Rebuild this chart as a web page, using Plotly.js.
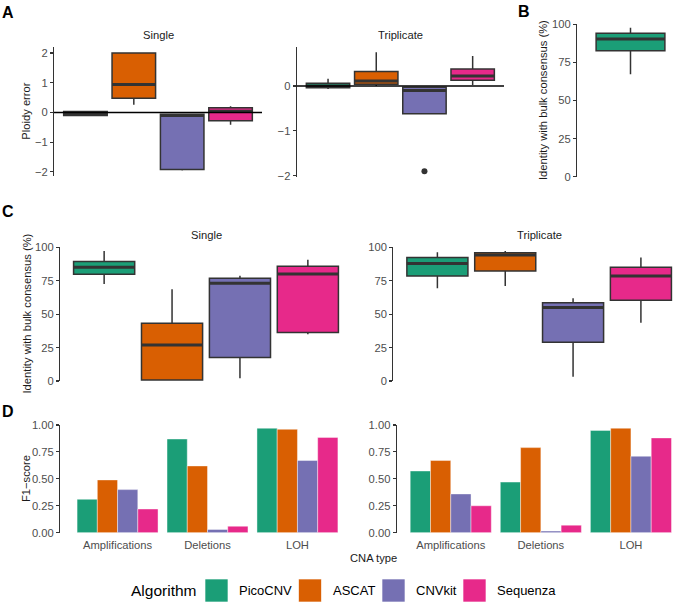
<!DOCTYPE html>
<html><head><meta charset="utf-8">
<script src="https://cdn.plot.ly/plotly-3.0.1.min.js"></script>
<style>html,body{margin:0;padding:0;background:#fff}#chart{width:685px;height:603px}</style>
</head><body><div id="chart"></div>
<script>
// ---------- DATA ----------
const algorithms = ["PicoCNV", "ASCAT", "CNVkit", "Sequenza"];
const algoColors = ["#1B9E77", "#D95F02", "#7570B3", "#E7298A"];
// box stats: [lowerfence, q1, median, q3, upperfence]
const ploidySingle = [
  [-0.12, -0.10, -0.04, 0.03, 0.06],
  [0.26, 0.48, 0.94, 2.00, 2.00],
  [-1.95, -1.92, -0.10, -0.06, -0.06],
  [-0.41, -0.28, 0.04, 0.16, 0.21]
];
const ploidyTriplicate = [
  [-0.07, -0.04, 0.00, 0.06, 0.16],
  [0.00, 0.04, 0.11, 0.32, 0.75],
  [-0.62, -0.62, -0.10, -0.03, -0.03],
  [0.02, 0.13, 0.22, 0.38, 0.67]
];
const ploidyTriplicateOutlierAlgo = ["CNVkit"];
const ploidyTriplicateOutlier = [-1.90];
const identityBulk = [67.3, 82.7, 90.4, 94.1, 97.8];
const identitySingle = [
  [72.6, 79.9, 85.1, 89.3, 97.3],
  [0.7, 0.7, 26.9, 43.2, 68.6],
  [2.0, 17.5, 73.1, 76.9, 78.8],
  [35.0, 36.2, 80.1, 85.8, 90.6]
];
const identityTriplicate = [
  [69.4, 78.6, 87.8, 92.3, 96.3],
  [71.1, 82.3, 94.3, 96.0, 97.3],
  [3.2, 29.0, 54.9, 58.6, 61.9],
  [43.6, 60.4, 78.6, 85.1, 92.3]
];
const cnaTypes = ["Amplifications", "Deletions", "LOH"];
const f1Single = [
  [0.31, 0.87, 0.97],
  [0.49, 0.62, 0.96],
  [0.40, 0.03, 0.67],
  [0.22, 0.06, 0.885]
];
const f1Triplicate = [
  [0.573, 0.47, 0.95],
  [0.67, 0.79, 0.97],
  [0.36, 0.015, 0.71],
  [0.25, 0.07, 0.88]
];
const ploidyTicks = [-2, -1, 0, 1, 2];
const identityTicks = [0, 25, 50, 75, 100];
const f1Ticks = [0, 0.25, 0.5, 0.75, 1];
const f1TickText = ["0.00", "0.25", "0.50", "0.75", "1.00"];

// ---------- HELPERS ----------
const W = 685, H = 603;
const fx = p => p / W;
const fy = p => 1 - p / H;
const FONT = "Liberation Sans, Arial, Helvetica, sans-serif";
const EDGE = "#333333";
const TICKSIZE = 11.2;
const traces = [];

function addBoxes(stats, names, colors, xa, ya) {
  stats.forEach((s, i) => {
    traces.push({
      type: "box", x: [names[i]], xaxis: xa, yaxis: ya,
      lowerfence: [s[0]], q1: [s[1]], median: [s[2]], q3: [s[3]], upperfence: [s[4]],
      width: 0.9, whiskerwidth: 0, fillcolor: colors[i], line: {color: EDGE, width: 1.5},
      boxpoints: false, hoverinfo: "skip", showlegend: false
    });
  });
  // thick median overlay
  stats.forEach((s, i) => {
    traces.push({
      type: "box", x: [names[i]], xaxis: xa, yaxis: ya,
      lowerfence: [s[2]], q1: [s[2]], median: [s[2]], q3: [s[2]], upperfence: [s[2]],
      width: 0.9, whiskerwidth: 0, fillcolor: "rgba(0,0,0,0)", line: {color: EDGE, width: 3},
      boxpoints: false, hoverinfo: "skip", showlegend: false
    });
  });
}

addBoxes(ploidySingle, algorithms, algoColors, "x", "y");
addBoxes(ploidyTriplicate, algorithms, algoColors, "x2", "y2");
traces.push({type: "scatter", mode: "markers", x: ploidyTriplicateOutlierAlgo, y: ploidyTriplicateOutlier,
  xaxis: "x2", yaxis: "y2", marker: {color: EDGE, size: 6}, hoverinfo: "skip", showlegend: false});
addBoxes([identityBulk], [algorithms[0]], [algoColors[0]], "x3", "y3");
addBoxes(identitySingle, algorithms, algoColors, "x4", "y4");
addBoxes(identityTriplicate, algorithms, algoColors, "x5", "y5");

function addBars(vals, xa, ya) {
  vals.forEach((v, i) => {
    traces.push({
      type: "bar", x: cnaTypes, y: v, xaxis: xa, yaxis: ya, name: algorithms[i],
      marker: {color: algoColors[i], line: {color: "rgba(255,255,255,0.7)", width: 0.6}},
      hoverinfo: "skip", showlegend: false
    });
  });
}
addBars(f1Single, "x6", "y6");
addBars(f1Triplicate, "x7", "y7");

// ---------- AXES ----------
function yax(px0, px1, range, tickvals, ticktext, anchor) {
  return {
    domain: [fy(px1), fy(px0)], range: range, anchor: anchor,
    showline: true, linecolor: EDGE, linewidth: 1.1,
    ticks: "outside", ticklen: 3, tickwidth: 1.1, tickcolor: EDGE,
    tickvals: tickvals, ticktext: ticktext,
    showgrid: false, zeroline: false,
    tickfont: {family: FONT, size: TICKSIZE, color: "#4D4D4D"}
  };
}
function xax(px0, px1, range, anchor, labels) {
  return {
    domain: [fx(px0), fx(px1)], range: range, anchor: anchor, type: "category",
    showline: false, showgrid: false, zeroline: false, ticks: "",
    showticklabels: !!labels, ticklabelstandoff: 4,
    tickfont: {family: FONT, size: TICKSIZE, color: "#4D4D4D"}
  };
}

const layout = {
  width: W, height: H, margin: {l: 0, r: 0, t: 0, b: 0},
  paper_bgcolor: "#fff", plot_bgcolor: "rgba(0,0,0,0)",
  showlegend: false, boxmode: "overlay", barmode: "group", bargap: 0.1, bargroupgap: 0,
  font: {family: FONT},
  xaxis:  xax(54, 262, [-0.65, 3.65], "y"),
  yaxis:  yax(47, 176.4, [-2.15, 2.2], ploidyTicks, null, "x"),
  xaxis2: xax(296.7, 504, [-0.65, 3.65], "y2"),
  yaxis2: yax(46.5, 177, [-2.03, 0.88], ploidyTicks, null, "x2"),
  xaxis3: xax(577, 684, [-0.7, 0.7], "y3"),
  yaxis3: yax(24.3, 176.7, [0, 100], identityTicks, null, "x3"),
  xaxis4: xax(60, 352, [-0.65, 3.65], "y4"),
  yaxis4: yax(247.3, 381, [0, 100], identityTicks, null, "x4"),
  xaxis5: xax(393.3, 685, [-0.65, 3.65], "y5"),
  yaxis5: yax(247.3, 381, [0, 100], identityTicks, null, "x5"),
  xaxis6: xax(60, 355, [-0.64, 2.64], "y6", true),
  yaxis6: yax(425, 532.7, [0, 1], f1Ticks, f1TickText, "x6"),
  xaxis7: xax(396.7, 685, [-0.6, 2.6], "y7", true),
  yaxis7: yax(425, 532.7, [0, 1], f1Ticks, f1TickText, "x7"),
  shapes: [
    {type: "line", xref: "x domain", yref: "y", x0: 0, x1: 1, y0: 0, y1: 0, line: {color: "#000", width: 1.5}, layer: "above"},
    {type: "line", xref: "x2 domain", yref: "y2", x0: 0, x1: 1, y0: 0, y1: 0, line: {color: "#000", width: 1.5}, layer: "above"}
  ],
  annotations: []
};

function ann(text, x, y, opts) {
  layout.annotations.push(Object.assign({
    text: text, xref: "paper", yref: "paper", x: fx(x), y: fy(y),
    xanchor: "center", yanchor: "middle", showarrow: false,
    font: {family: FONT, size: TICKSIZE, color: "#1A1A1A"}
  }, opts || {}));
}
// panel letters
const letterFont = {family: FONT, size: 16, color: "#000"};
ann("<b>A</b>", 8, 12.5, {font: letterFont});
ann("<b>B</b>", 524, 11, {font: letterFont});
ann("<b>C</b>", 8, 211.5, {font: letterFont});
ann("<b>D</b>", 8, 411.5, {font: letterFont});
// facet titles
ann("Single", 158, 34.5);
ann("Triplicate", 400.3, 34.5);
ann("Single", 206, 235);
ann("Triplicate", 539, 235);
// axis titles
ann("Ploidy error", 26, 111.7, {textangle: -90});
ann("Identity with bulk consensus (%)", 543.5, 100.5, {textangle: -90});
ann("Identity with bulk consensus (%)", 26.5, 314, {textangle: -90});
ann("F1\u2212score", 26, 479, {textangle: -90});
ann("CNA type", 374, 557.5);
// legend
ann("Algorithm", 129, 590.5, {xanchor: "left", font: {family: FONT, size: 15.5, color: "#000"}});
const swatchX = [205, 298.5, 382, 463];
const labelX = [237, 331, 414, 495];
algorithms.forEach((a, i) => {
  layout.shapes.push({type: "rect", xref: "paper", yref: "paper",
    x0: fx(swatchX[i]), x1: fx(swatchX[i] + 23), y0: fy(602), y1: fy(579),
    fillcolor: algoColors[i], line: {color: "rgba(255,255,255,0.8)", width: 0.8}});
  ann(a, labelX[i], 590.5, {xanchor: "left", font: {family: FONT, size: 13, color: "#000"}});
});

Plotly.newPlot("chart", traces, layout, {staticPlot: true, displayModeBar: false});
</script></body></html>
